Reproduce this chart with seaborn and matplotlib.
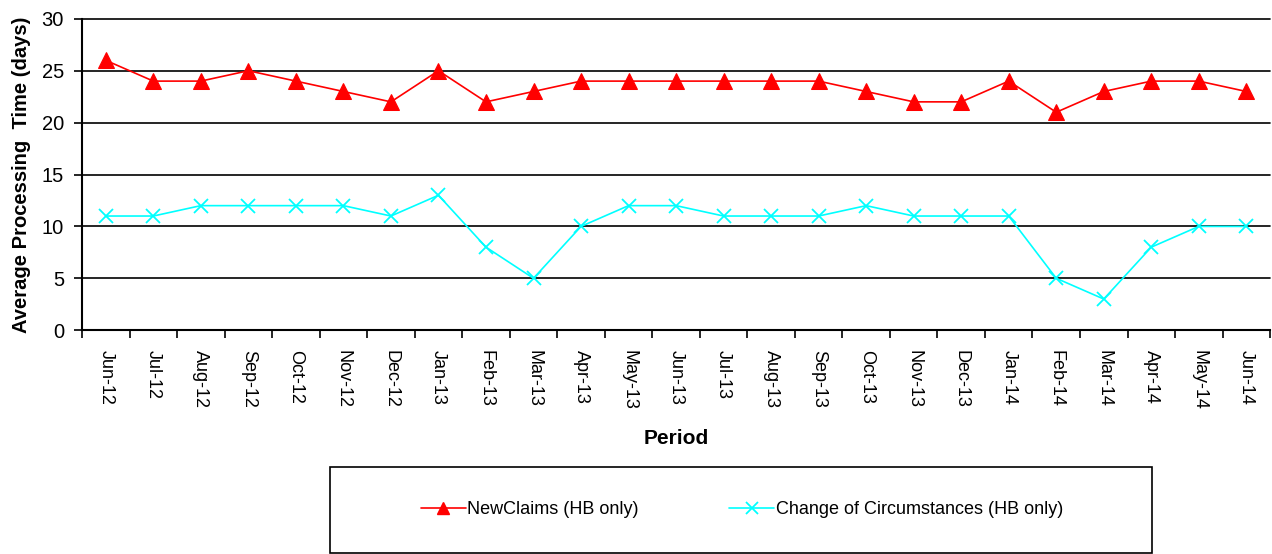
import numpy as np
import pandas as pd
import seaborn as sns
import matplotlib
matplotlib.use('Agg')
import matplotlib.pyplot as plt
from matplotlib.patches import Rectangle

periods = ["Jun-12", "Jul-12", "Aug-12", "Sep-12", "Oct-12", "Nov-12", "Dec-12",
           "Jan-13", "Feb-13", "Mar-13", "Apr-13", "May-13", "Jun-13", "Jul-13",
           "Aug-13", "Sep-13", "Oct-13", "Nov-13", "Dec-13", "Jan-14", "Feb-14",
           "Mar-14", "Apr-14", "May-14", "Jun-14"]
new_claims = [26, 24, 24, 25, 24, 23, 22, 25, 22, 23, 24, 24, 24, 24, 24, 24,
              23, 22, 22, 24, 21, 23, 24, 24, 23]
change_circ = [11, 11, 12, 12, 12, 12, 11, 13, 8, 5, 10, 12, 12, 11, 11, 11,
               12, 11, 11, 11, 5, 3, 8, 10, 10]
series_names = ["NewClaims (HB only)", "Change of Circumstances (HB only)"]

pos = list(range(len(periods)))

sns.set_style("white")
plt.rcParams['font.family'] = ['Liberation Sans', 'DejaVu Sans']
plt.rcParams['text.color'] = 'black'
plt.rcParams['axes.labelcolor'] = 'black'
plt.rcParams['xtick.color'] = 'black'
plt.rcParams['ytick.color'] = 'black'

fig = plt.figure(figsize=(12.72, 5.54), dpi=100)
ax = fig.add_axes([0.0645, 0.404, 0.934, 0.562])

sns.lineplot(x=pos, y=new_claims, color="#ff0000", marker="^", markersize=11,
             markeredgecolor="#ff0000", linewidth=1.2, ax=ax)
sns.lineplot(x=pos, y=change_circ, color="#00ffff", marker="x", markersize=10,
             markeredgecolor="#00ffff", markeredgewidth=1.3, linewidth=1.2, ax=ax)

ax.set_xlim(-0.5, len(periods) - 0.5)
ax.set_ylim(0, 30)
ax.set_yticks(range(0, 31, 5))
ax.yaxis.grid(True, color="black", linewidth=1.2)
for gl in ax.get_ygridlines():
    gl.set_clip_on(False)
ax.set_axisbelow(True)
ax.set_xticks(pos)
ax.set_xticklabels(periods, rotation=-90, fontsize=13)
ax.set_xticks(np.arange(-0.5, len(periods), 1), minor=True)
ax.tick_params(axis="x", which="major", length=0, pad=14)
ax.tick_params(axis="x", which="minor", length=6, width=1.2, color="black", direction="out")
ax.tick_params(axis="y", length=6, width=1.2, color="black", direction="out", labelsize=14.5, pad=7)
ax.tick_params(bottom=True, left=True, which="both")

for s in ["top", "right"]:
    ax.spines[s].set_visible(False)
for s in ["left", "bottom"]:
    ax.spines[s].set_color("black")
    ax.spines[s].set_linewidth(1.5)

ax.set_xlabel("Period", fontsize=15, fontweight="bold", labelpad=14)
ax.set_ylabel("Average Processing  Time (days)", fontsize=14.5, fontweight="bold", labelpad=8)

# legend box drawn as a plain rectangle, entries placed frameless inside it
fig.patches.append(Rectangle((330 / 1272, 1 / 554), 822 / 1272, 86 / 554,
                             transform=fig.transFigure, fill=False,
                             edgecolor="black", linewidth=1.2))
h1, = ax.plot([], [], color="#ff0000", marker="^", markersize=9, linewidth=1.2)
h2, = ax.plot([], [], color="#00ffff", marker="x", markersize=9, markeredgewidth=1.3, linewidth=1.2)
fig.legend([h1, h2], series_names, loc="center", ncol=2,
           bbox_to_anchor=(742 / 1272, 1 - 510 / 554),
           fontsize=13, frameon=False, handlelength=2.5, handletextpad=0.1,
           columnspacing=5)

fig.savefig("out.png", dpi=100)
